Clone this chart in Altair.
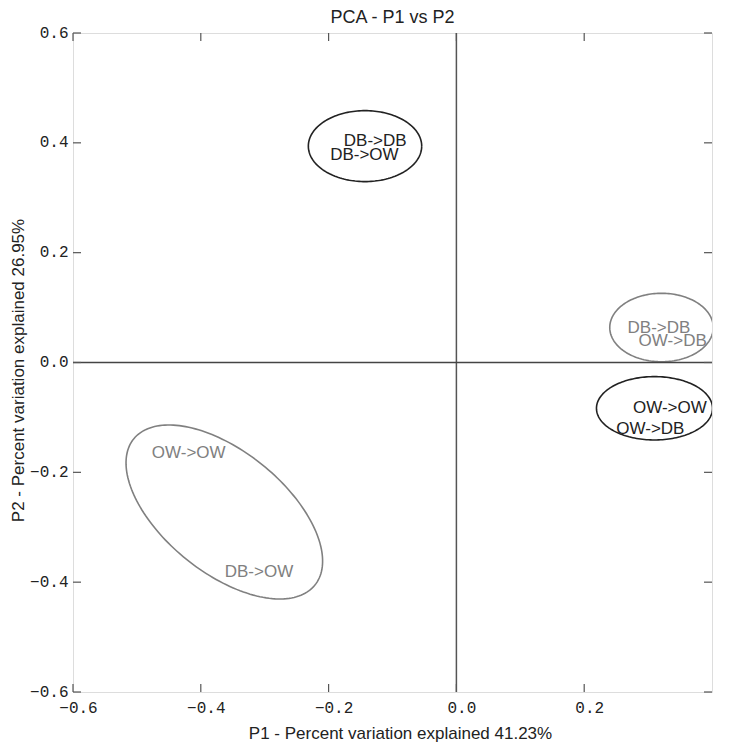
import numpy as np
import pandas as pd
import altair as alt

# ---- data ----
x_ticks = [-0.6, -0.4, -0.2, 0.0, 0.2]
y_ticks = [-0.6, -0.4, -0.2, 0.0, 0.2, 0.4, 0.6]

# sample labels (text, x, y, group colour)
label_text = ["DB->DB", "DB->OW", "DB->DB", "OW->DB", "OW->OW", "OW->DB", "OW->OW", "DB->OW"]
label_x = [-0.127, -0.144, 0.317, 0.3385, 0.334, 0.3035, -0.419, -0.309]
label_y = [0.404, 0.377, 0.063, 0.0386, -0.083, -0.121, -0.165, -0.382]
label_group = ["black", "black", "gray", "gray", "black", "black", "gray", "gray"]

# ellipses: centre and two conjugate semi-axis vectors (data units)
ell_id = ["e1", "e2", "e3", "e4"]
ell_group = ["black", "gray", "black", "gray"]
ell_cx = [-0.143, 0.321, 0.310, -0.3632]
ell_cy = [0.394, 0.0637, -0.0834, -0.2722]
ell_ux = [0.0887, 0.081, 0.0908, 0.1418]
ell_uy = [0.0, 0.0, 0.0, -0.1331]
ell_vx = [0.0, 0.0, 0.0, -0.0596]
ell_vy = [0.0646, 0.0623, 0.0577, -0.0859]

# ---- build tables ----
t = np.linspace(0, 2 * np.pi, 181)
rows = []
for i in range(len(ell_id)):
    for k, tt in enumerate(t):
        rows.append({
            "id": ell_id[i], "group": ell_group[i], "order": k,
            "x": ell_cx[i] + ell_ux[i] * np.cos(tt) + ell_vx[i] * np.sin(tt),
            "y": ell_cy[i] + ell_uy[i] * np.cos(tt) + ell_vy[i] * np.sin(tt),
        })
ell_df = pd.DataFrame(rows)
lab_df = pd.DataFrame({"text": label_text, "x": label_x, "y": label_y, "group": label_group})
xt_df = pd.DataFrame({"v": x_ticks})
yt_df = pd.DataFrame({"v": y_ticks})

W, H = 639, 659
TICK = 8
xscale = alt.Scale(domain=[-0.6, 0.4], nice=False, zero=False)
yscale = alt.Scale(domain=[-0.6, 0.6], nice=False, zero=False)
cscale = alt.Scale(domain=["black", "gray"], range=["#222222", "#808080"])

mono = "Liberation Mono"
sans = "Liberation Sans"

xaxis = alt.Axis(values=x_ticks, format=".1f", ticks=False, domain=False, grid=False,
                 labelFont=mono, labelFontSize=16, labelColor="#222222", labelPadding=7,
                 labelOffset=5, labelFlush=False, labelOverlap=False,
                 title="P1 - Percent variation explained 41.23%",
                 titleFont=sans, titleFontSize=17, titleFontWeight="normal", titleColor="#222222",
                 titleX=327, titleY=46, titleBaseline="alphabetic", titleAlign="center")
yaxis = alt.Axis(values=y_ticks, format=".1f", ticks=False, domain=False, grid=False,
                 labelFont=mono, labelFontSize=16, labelColor="#222222", labelPadding=5,
                 labelFlush=False, labelOverlap=False, labelOffset=-1,
                 title="P2 - Percent variation explained 26.95%",
                 titleFont=sans, titleFontSize=17, titleFontWeight="normal", titleColor="#222222",
                 titleX=-50, titleY=337, titleBaseline="alphabetic", titleAlign="center", titleAngle=270)

ellipses = alt.Chart(ell_df).mark_line(strokeWidth=1.6, clip=True).encode(
    x=alt.X("x:Q", scale=xscale, axis=xaxis),
    y=alt.Y("y:Q", scale=yscale, axis=yaxis),
    color=alt.Color("group:N", scale=cscale, legend=None),
    detail="id:N",
    order="order:Q",
)

labels = alt.Chart(lab_df).mark_text(font=sans, fontSize=17, align="center", baseline="middle").encode(
    x=alt.X("x:Q", scale=xscale),
    y=alt.Y("y:Q", scale=yscale),
    text="text:N",
    color=alt.Color("group:N", scale=cscale, legend=None),
)

zero_v = alt.Chart(pd.DataFrame({"v": [0.0]})).mark_rule(color="#555555", strokeWidth=1.5).encode(
    x=alt.X("v:Q", scale=xscale))
zero_h = alt.Chart(pd.DataFrame({"v": [0.0]})).mark_rule(color="#444444", strokeWidth=1.5).encode(
    y=alt.Y("v:Q", scale=yscale))

tick_b = alt.Chart(xt_df).mark_rule(color="#555555", strokeWidth=1.2).encode(
    x=alt.X("v:Q", scale=xscale), y=alt.value(H), y2=alt.value(H - TICK))
tick_t = alt.Chart(xt_df).mark_rule(color="#555555", strokeWidth=1.2).encode(
    x=alt.X("v:Q", scale=xscale), y=alt.value(0), y2=alt.value(TICK))
tick_l = alt.Chart(yt_df).mark_rule(color="#555555", strokeWidth=1.2).encode(
    y=alt.Y("v:Q", scale=yscale), x=alt.value(0), x2=alt.value(TICK))
tick_r = alt.Chart(yt_df).mark_rule(color="#555555", strokeWidth=1.2).encode(
    y=alt.Y("v:Q", scale=yscale), x=alt.value(W - TICK), x2=alt.value(W))

chart = alt.layer(ellipses, zero_v, zero_h, tick_b, tick_t, tick_l, tick_r, labels).properties(
    width=W, height=H,
    title=alt.TitleParams("PCA - P1 vs P2", font=sans, fontSize=18, fontWeight="normal",
                          color="#222222", anchor="middle", frame="group",
                          baseline="alphabetic", offset=0, dy=17),
    autosize=alt.AutoSizeParams(type="none"),
    padding={"left": 65, "top": 25, "right": 9, "bottom": 50},
).configure_view(stroke="#333333", strokeWidth=1.5).configure(background="white")

chart.save("out.html", embed_options={"renderer": "svg", "actions": False})
